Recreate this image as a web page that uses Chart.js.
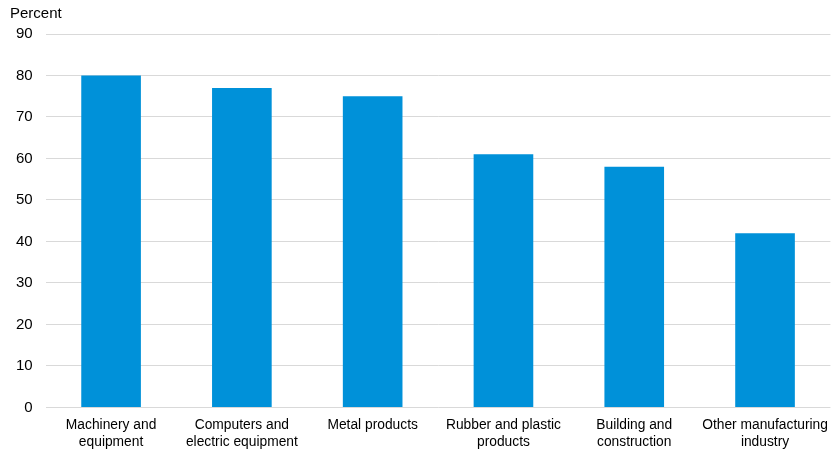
<!DOCTYPE html>
<html>
<head>
<meta charset="utf-8">
<script src="https://cdn.jsdelivr.net/npm/chart.js@4.4.1/dist/chart.umd.min.js"></script>
<style>
  html, body { margin: 0; padding: 0; background: #fff; }
  #wrap { width: 838px; height: 452px; position: relative; }
</style>
</head>
<body>
<div id="wrap"><canvas id="c"></canvas></div>
<script>
// categories and values
const categories = [
    ['Machinery and', 'equipment'],
    ['Computers and', 'electric equipment'],
    ['Metal products'],
    ['Rubber and plastic', 'products'],
    ['Building and', 'construction'],
    ['Other manufacturing', 'industry']
];
const shares = [80, 77, 75, 61, 58, 42];
const yTicks = [0, 10, 20, 30, 40, 50, 60, 70, 80, 90];
const unitLabel = 'Percent';

const font = 'Liberation Sans, Arial, sans-serif';

// unit label sits above the value axis, left of the plot
const unitPlugin = {
    id: 'unitLabel',
    afterDraw(chart) {
        const ctx = chart.ctx;
        ctx.save();
        ctx.font = '15px ' + font;
        ctx.fillStyle = '#000';
        ctx.textAlign = 'left';
        ctx.textBaseline = 'middle';
        ctx.fillText(unitLabel, 10, 14);
        ctx.restore();
    }
};

new Chart(document.getElementById('c'), {
    type: 'bar',
    data: {
        labels: categories,
        datasets: [{ label: 'Percent', data: shares, backgroundColor: '#0091d9', categoryPercentage: 1, barPercentage: 0.456 }]
    },
    options: {
        responsive: true, maintainAspectRatio: false, animation: false,
        layout: { padding: { left: 3, right: 1, top: 34, bottom: -8 } },
        plugins: {
            legend: { display: false },
            tooltip: { enabled: false },
            title: { display: false }
        },
        scales: {
            x: {
                grid: { display: false, drawTicks: false },
                border: { display: false },
                ticks: { color: '#000', font: { family: font, size: 13.8, lineHeight: 1.18 }, padding: 10, maxRotation: 0, autoSkip: false }
            },
            y: {
                min: 0, max: 90,
                afterBuildTicks: (s) => { s.ticks = yTicks.map(v => ({ value: v })); },
                grid: { color: '#d9d9d9', lineWidth: 1, drawTicks: false },
                border: { display: false },
                ticks: { color: '#000', font: { family: font, size: 15 }, padding: 13 }
            }
        }
    },
    plugins: [unitPlugin]
});
</script>
</body>
</html>
